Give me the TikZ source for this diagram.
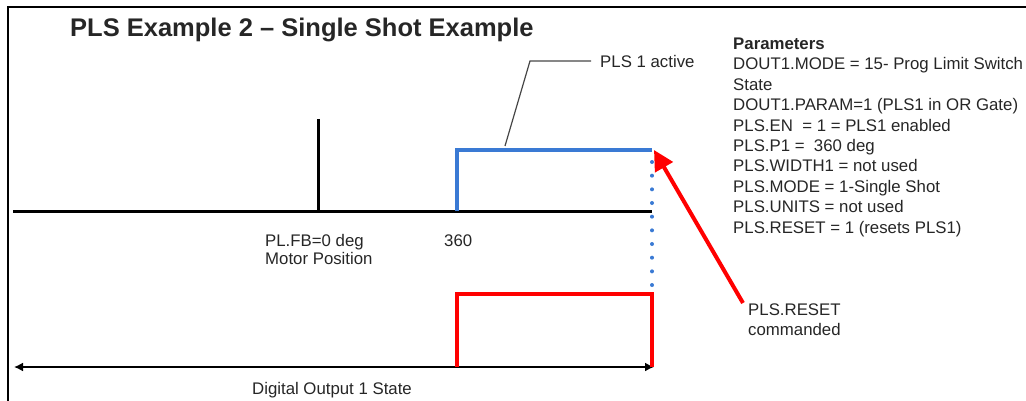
\documentclass[tikz,border=0pt]{standalone}
\usepackage{fontspec}
\setmainfont{Liberation Sans}
\usetikzlibrary{arrows.meta}
\definecolor{plsblue}{RGB}{58,122,212}
\definecolor{plsred}{RGB}{255,0,0}
\definecolor{leadgray}{RGB}{70,70,70}
\begin{document}
\begin{tikzpicture}[x=1pt,y=-1pt,
  txt/.style={inner sep=0pt, font=\fontsize{16.8}{20.4}\selectfont, text=black!85},
  axisline/.style={line width=3pt, black},
  bluewave/.style={line width=3.5pt, plsblue},
  bluedots/.style={line width=4pt, plsblue, line cap=round, dash pattern=on 0pt off 13.67pt},
  redwave/.style={line width=4pt, plsred},
  redarrow/.style={line width=4pt, plsred, -{Triangle[length=20pt,width=20pt]}},
  leader/.style={line width=1.2pt, leadgray},
  stateaxis/.style={line width=1.6pt, black, {Latex[length=9pt,width=9pt]}-{Latex[length=9pt,width=9pt]}}
]
\useasboundingbox (0,0) rectangle (1026,401);
% frame
\draw[line width=1.5pt] (8,401) -- (8,7) -- (1026,7);
% title
\node[anchor=base west, inner sep=0pt, font=\fontsize{25.5}{30}\selectfont\bfseries, text=black!85] (title) at (70,37) {PLS Example 2 – Single Shot Example};
% coordinates
\coordinate (a0) at (13,211);
\coordinate (a1) at (652,211);
\coordinate (t0) at (318,119);
\coordinate (t1) at (318,211);
\coordinate (b0) at (457,211);
\coordinate (b1) at (457,150);
\coordinate (b2) at (652,150);
\coordinate (b2d) at (652,162);
\coordinate (b3) at (652,285.1);
\coordinate (r0) at (457,367);
\coordinate (r1) at (457,294);
\coordinate (r2) at (652,294);
\coordinate (r3) at (652,367);
\coordinate (d0) at (14,367);
\coordinate (d1) at (654,367);
\coordinate (l0) at (505,146);
\coordinate (l1) at (530,61);
\coordinate (rtip) at (654,150);
\coordinate (rtail) at (743,303);
% position axis
\draw[axisline] (a0) -- (a1);
\draw[axisline] (t0) -- (t1);
% blue PLS active
\draw[bluewave] (b0) -- (b1) -- (b2);
\draw[bluedots] (b2d) -- (b3);
% red digital output
\draw[stateaxis] (d0) -- (d1);
\draw[redwave] (r0) -- (r1) -- (r2) -- (r3);
% labels
\node[txt, anchor=west, inner xsep=9pt] (pls1) at (591,61) {PLS 1 active};
\draw[leader] (l0) -- (l1) -- (pls1.west);
\node[txt, anchor=base west, align=left, font=\fontsize{16.8}{18}\selectfont] (plfb) at (265,264) {PL.FB=0 deg\\Motor Position};
\node[txt, anchor=base west] (n360) at (444,246) {360};
\node[txt, anchor=base] (dos) at (332,394) {Digital Output 1 State};
\node[txt, anchor=base west, align=left, font=\fontsize{16.8}{20}\selectfont] (reset) at (748,335) {PLS.RESET\\commanded};
\draw[redarrow] (rtail) -- (rtip);
\node[txt, anchor=base west, align=left] (params) at (733,233.1) {\textbf{Parameters}\\
DOUT1.MODE = 15- Prog Limit Switch\\
State\\
DOUT1.PARAM=1 (PLS1 in OR Gate)\\
PLS.EN\ \ = 1 = PLS1 enabled\\
PLS.P1 =\ \ 360 deg\\
PLS.WIDTH1 = not used\\
PLS.MODE = 1-Single Shot\\
PLS.UNITS = not used\\
PLS.RESET = 1 (resets PLS1)};
\end{tikzpicture}
\end{document}
